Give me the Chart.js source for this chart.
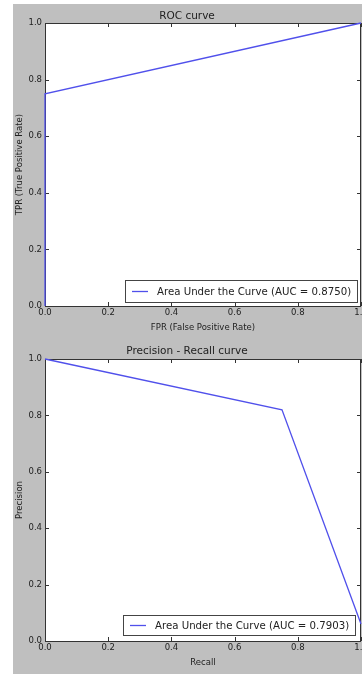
<!DOCTYPE html>
<html><head><meta charset="utf-8">
<script src="https://cdn.jsdelivr.net/npm/chart.js@4/dist/chart.umd.min.js"></script>
<style>
html,body{margin:0;padding:0;background:#fff;width:362px;height:675px;overflow:hidden;}
#fig{position:absolute;left:13px;top:4px;width:349px;height:670px;background:#bfbfbf;}
#c1{position:absolute;left:13px;top:4px;}
#c2{position:absolute;left:13px;top:337px;}
</style></head><body>
<div id="fig"></div>
<canvas id="c1" width="349" height="333"></canvas>
<canvas id="c2" width="349" height="337"></canvas>
<script>
// ---- data ----
const rocFpr = [0, 0, 1];
const rocTpr = [0, 0.75, 1];
const prRecall = [0, 0.75, 1];
const prPrecision = [1, 0.82, 0.06];
const tickValues = [0, 0.2, 0.4, 0.6, 0.8, 1.0];
const rocLabel = 'Area Under the Curve (AUC = 0.8750)';
const prLabel = 'Area Under the Curve (AUC = 0.7903)';

const FONT = '"DejaVu Sans", sans-serif';
const TEXT = '#222';

const framePlugin = {
  id: 'frame',
  beforeDraw(chart) {
    const {ctx, chartArea: a} = chart;
    ctx.save();
    ctx.fillStyle = '#fff';
    ctx.fillRect(a.left, a.top, a.right - a.left, a.bottom - a.top);
    ctx.restore();
  },
  beforeDatasetsDraw(chart) {
    const {ctx, chartArea: a, scales} = chart;
    ctx.save();
    ctx.strokeStyle = '#333';
    ctx.lineWidth = 1;
    ctx.beginPath();
    const L = 4;
    scales.x.ticks.forEach(t => {
      const px = Math.round(scales.x.getPixelForValue(t.value)) + 0.5;
      ctx.moveTo(px, a.bottom); ctx.lineTo(px, a.bottom - L);
      ctx.moveTo(px, a.top); ctx.lineTo(px, a.top + L);
    });
    scales.y.ticks.forEach(t => {
      const py = Math.round(scales.y.getPixelForValue(t.value)) + 0.5;
      ctx.moveTo(a.left, py); ctx.lineTo(a.left + L, py);
      ctx.moveTo(a.right, py); ctx.lineTo(a.right - L, py);
    });
    ctx.stroke();
    ctx.strokeRect(Math.round(a.left) + 0.5, Math.round(a.top) + 0.5,
      Math.round(a.right - a.left) - 1, Math.round(a.bottom - a.top));
    ctx.restore();
  }
};

const legendPlugin = {
  id: 'boxLegend',
  afterDraw(chart, args, opts) {
    const {ctx, chartArea: a} = chart;
    const ds = chart.data.datasets[0];
    ctx.save();
    ctx.font = '10.2px ' + FONT;
    const tw = ctx.measureText(ds.label).width;
    const w = Math.round(7 + 16 + 9 + tw + 6);
    const h = opts.h;
    const x = Math.round(a.right - opts.m - w);
    const y = Math.round(a.bottom - opts.m - h);
    ctx.fillStyle = '#fff';
    ctx.fillRect(x, y, w, h);
    ctx.strokeStyle = '#444';
    ctx.lineWidth = 1;
    ctx.strokeRect(x + 0.5, y + 0.5, w, h);
    ctx.strokeStyle = ds.borderColor;
    ctx.lineWidth = ds.borderWidth;
    ctx.beginPath();
    ctx.moveTo(x + 7, y + h / 2 + 0.5);
    ctx.lineTo(x + 23, y + h / 2 + 0.5);
    ctx.stroke();
    ctx.fillStyle = TEXT;
    ctx.textBaseline = 'middle';
    ctx.textAlign = 'left';
    ctx.fillText(ds.label, x + 32, y + h / 2 + 1);
    ctx.restore();
  }
};

function makeChart(id, xs, ys, label, title, xTitle, yTitle, p) {
  return new Chart(document.getElementById(id), {
    type: 'scatter',
    data: {
      datasets: [{
        label: label,
        data: xs.map((x, i) => ({x: x, y: ys[i]})),
        showLine: true,
        borderColor: 'rgb(80,80,235)',
        borderWidth: 1.3,
        pointRadius: 0,
        fill: false,
        tension: 0,
        clip: 3
      }]
    },
    options: {
      responsive: false,
      animation: false,
      devicePixelRatio: 1,
      layout: {padding: {left: 0, right: 1, top: 0, bottom: 0}},
      plugins: {
        legend: {display: false},
        tooltip: {enabled: false},
        title: {
          display: true, text: title, color: TEXT,
          font: {family: FONT, size: 10.5, weight: 'normal'},
          padding: {top: p.tTop, bottom: p.tBot}
        },
        boxLegend: {m: p.lm, h: p.lh}
      },
      scales: {
        x: {
          type: 'linear', min: 0, max: 1,
          grid: {display: false, drawTicks: false},
          border: {display: false},
          afterBuildTicks: s => { s.ticks = tickValues.map(v => ({value: v})); },
          ticks: {
            color: TEXT, padding: 2, maxRotation: 0, autoSkip: false,
            font: {family: FONT, size: 8.5},
            callback: v => Number(v).toFixed(1)
          },
          title: {
            display: true, text: xTitle, color: TEXT,
            font: {family: FONT, size: 8.5},
            padding: {top: 0, bottom: p.xtPad}
          },
          afterFit: s => { s.height = p.xh; s.paddingLeft = 0; s.paddingRight = 0; }
        },
        y: {
          type: 'linear', min: 0, max: 1,
          grid: {display: false, drawTicks: false},
          border: {display: false},
          afterBuildTicks: s => { s.ticks = tickValues.map(v => ({value: v})); },
          ticks: {
            color: TEXT, padding: 3, autoSkip: false,
            font: {family: FONT, size: 8.5},
            callback: v => Number(v).toFixed(1)
          },
          title: {
            display: true, text: yTitle, color: TEXT,
            font: {family: FONT, size: 8.5},
            padding: {top: 2, bottom: 0}
          },
          afterFit: s => { s.width = 32; s.paddingTop = 0; s.paddingBottom = 0; }
        }
      }
    },
    plugins: [framePlugin, legendPlugin]
  });
}

makeChart('c1', rocFpr, rocTpr, rocLabel, 'ROC curve',
  'FPR (False Positive Rate)', 'TPR (True Positive Rate)',
  {tTop: 5.7, tBot: 0.7, xh: 31, xtPad: 3.9, lm: 4, lh: 22});
makeChart('c2', prRecall, prPrecision, prLabel, 'Precision - Recall curve',
  'Recall', 'Precision',
  {tTop: 7.7, tBot: 1.7, xh: 33, xtPad: 5.9, lm: 6, lh: 20});
</script>
</body></html>
